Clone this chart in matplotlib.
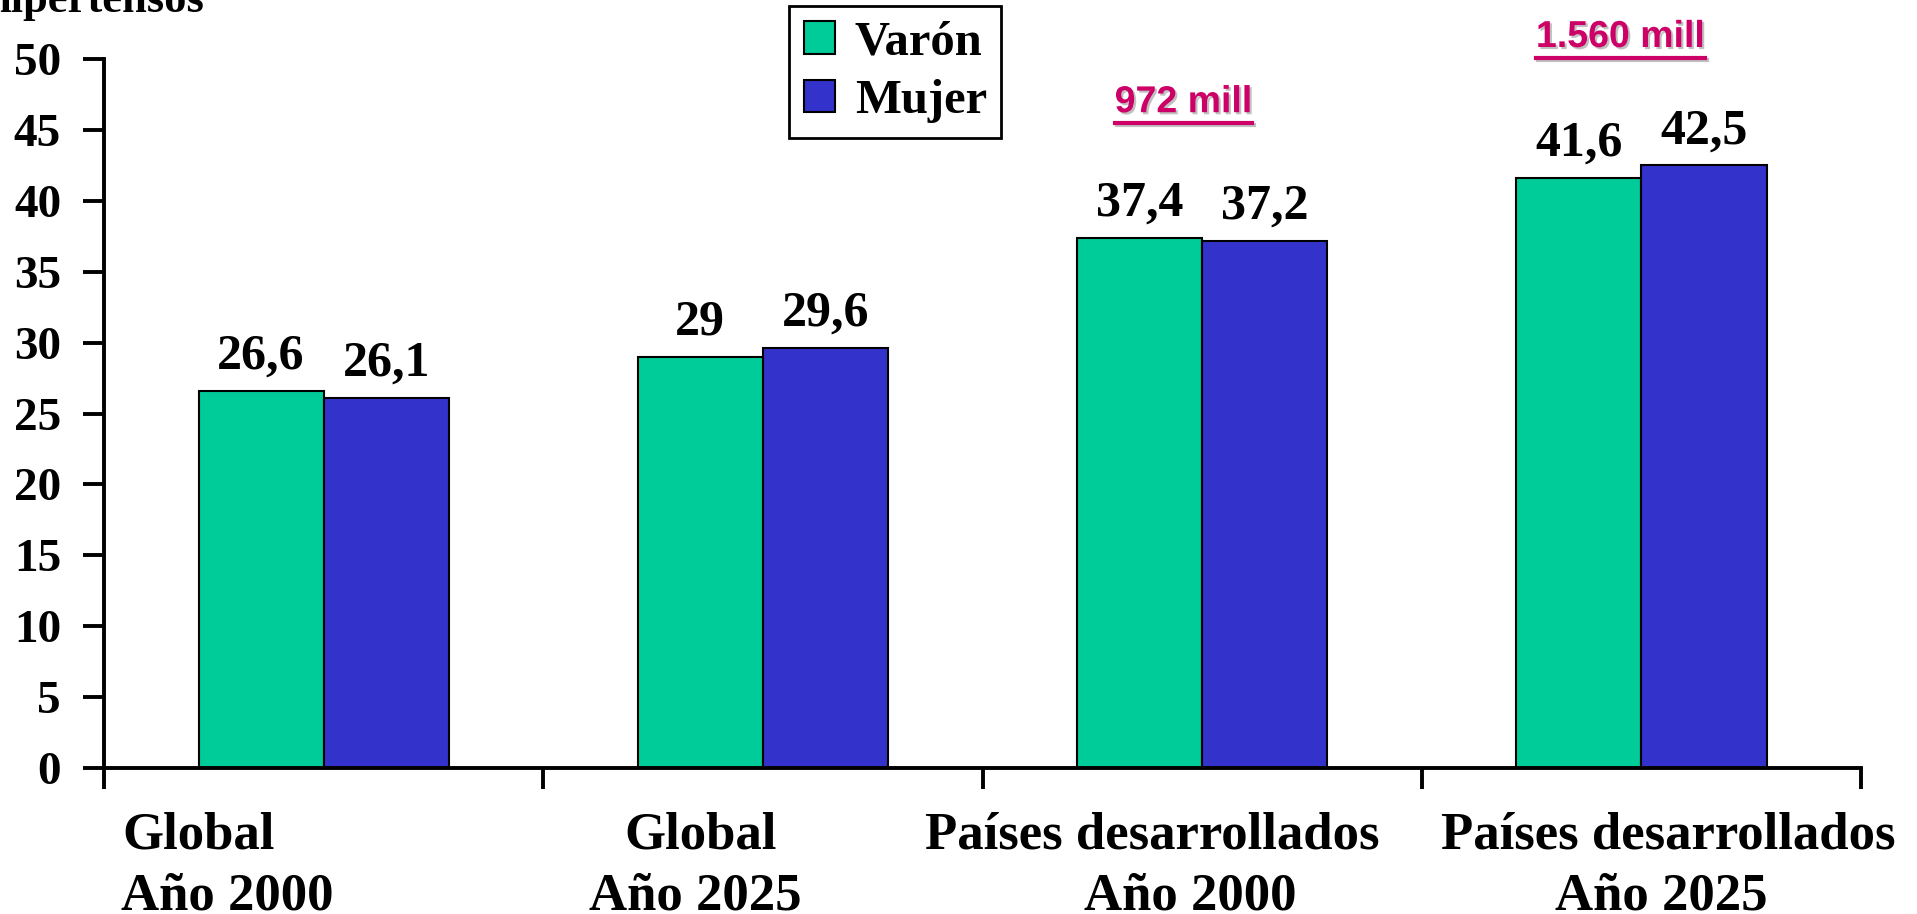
import matplotlib
matplotlib.use('Agg')
import matplotlib.pyplot as plt
import matplotlib.patheffects as pe
from matplotlib.patches import Patch
import numpy as np

# %% datos
grupos = ['Global\nAño 2000', 'Global\nAño 2025',
          'Países desarrollados\nAño 2000', 'Países desarrollados\nAño 2025']
varon = [26.6, 29.0, 37.4, 41.6]
mujer = [26.1, 29.6, 37.2, 42.5]
etiquetas_varon = ['26,6', '29', '37,4', '41,6']
etiquetas_mujer = ['26,1', '29,6', '37,2', '42,5']
totales = {2: '972 mill', 3: '1.560 mill'}
yticks = np.arange(0, 55, 5)

# corrimiento horizontal de cada renglon de las etiquetas del eje x
desplazamientos = [(-0.284, -0.22), (-0.142, -0.153),
                   (-0.114, -0.028), (0.061, 0.045)]
# ubicacion de los totales (corrimiento en x, altura en fraccion del eje)
posiciones_totales = {2: (-0.043, 0.925), 3: (-0.048, 1.017)}

verde = '#00CC99'
azul = '#3333CC'
rosa = '#CC0066'

plt.rcParams['font.family'] = ['Liberation Serif', 'DejaVu Serif']
plt.rcParams['font.weight'] = 'bold'

fig = plt.figure(figsize=(19.17, 9.14), dpi=100)
ax = fig.add_axes([0.0543, 0.1597, 0.9165, 0.7757])

x = np.arange(len(grupos))
ancho = 0.285
b1 = ax.bar(x - ancho/2, varon, ancho, color=verde, edgecolor='black',
            linewidth=1.5)
b2 = ax.bar(x + ancho/2, mujer, ancho, color=azul, edgecolor='black',
            linewidth=1.5)

for barras, textos in ((b1, etiquetas_varon), (b2, etiquetas_mujer)):
    for b, t in zip(barras, textos):
        ax.annotate(t, (b.get_x() + b.get_width()/2, b.get_height()),
                    xytext=(0, 16), textcoords='offset points',
                    ha='center', va='baseline', fontsize=36,
                    fontweight='bold')

ax.set_xlim(-0.5, len(grupos) - 0.5)
ax.set_ylim(0, 50)
ax.set_yticks(yticks)
ax.set_yticklabels([str(v) for v in yticks])
ax.set_xticks(np.arange(-0.5, len(grupos), 1.0))
ax.set_xticklabels([])
ax.tick_params(axis='y', direction='out', length=15, width=2.8, pad=16,
               labelsize=34)
ax.tick_params(axis='x', direction='out', length=15, width=2.8)
for s in ('top', 'right'):
    ax.spines[s].set_visible(False)
for s in ('left', 'bottom'):
    ax.spines[s].set_linewidth(2.8)

# etiquetas de categorias, dos renglones cada una
for i, g in enumerate(grupos):
    linea1, linea2 = g.split('\n')
    d1, d2 = desplazamientos[i]
    ax.text(i + d1, -0.113, linea1, transform=ax.get_xaxis_transform(),
            ha='center', va='baseline', fontsize=38, fontweight='bold')
    ax.text(i + d2, -0.2, linea2, transform=ax.get_xaxis_transform(),
            ha='center', va='baseline', fontsize=38, fontweight='bold')

# leyenda
handles = [Patch(facecolor=verde, edgecolor='black', linewidth=1.5),
           Patch(facecolor=azul, edgecolor='black', linewidth=1.5)]
leg = fig.legend(handles, ['Varón', 'Mujer'], loc='upper left',
                 bbox_to_anchor=(0.4116, 0.9934), fontsize=35,
                 handlelength=0.65, handleheight=0.65, handletextpad=0.4,
                 labelspacing=0.3, borderpad=0.3, borderaxespad=0,
                 fancybox=False, framealpha=1)
leg.get_frame().set_edgecolor('black')
leg.get_frame().set_linewidth(2)

# totales en millones, subrayados y con sombra
sombra = [pe.SimplePatchShadow(offset=(1.5, -1.5), shadow_rgbFace='#c0c0c0',
                               alpha=1), pe.Normal()]
fig.canvas.draw()
inv = fig.transFigure.inverted()
for i, t in totales.items():
    dx, yy = posiciones_totales[i]
    txt = ax.text(i + dx, yy, t, transform=ax.get_xaxis_transform(),
                  ha='center', va='baseline', fontsize=27,
                  family='Liberation Sans', fontweight='bold', color=rosa,
                  path_effects=sombra)
    bb = txt.get_window_extent(fig.canvas.get_renderer())
    (x0, y0), (x1, y1) = inv.transform([(bb.x0, bb.y0 - 3), (bb.x1, bb.y0 - 3)])
    fig.add_artist(plt.Line2D([x0, x1], [y0, y1], color=rosa, lw=3,
                              path_effects=[pe.SimpleLineShadow(
                                  offset=(1.5, -1.5), shadow_color='#c0c0c0',
                                  alpha=1), pe.Normal()]))

fig.text(205/1917, 1 - 12/914, 'hipertensos', ha='right', va='baseline',
         fontsize=32, fontweight='bold')

fig.savefig('out.png', dpi=100)
